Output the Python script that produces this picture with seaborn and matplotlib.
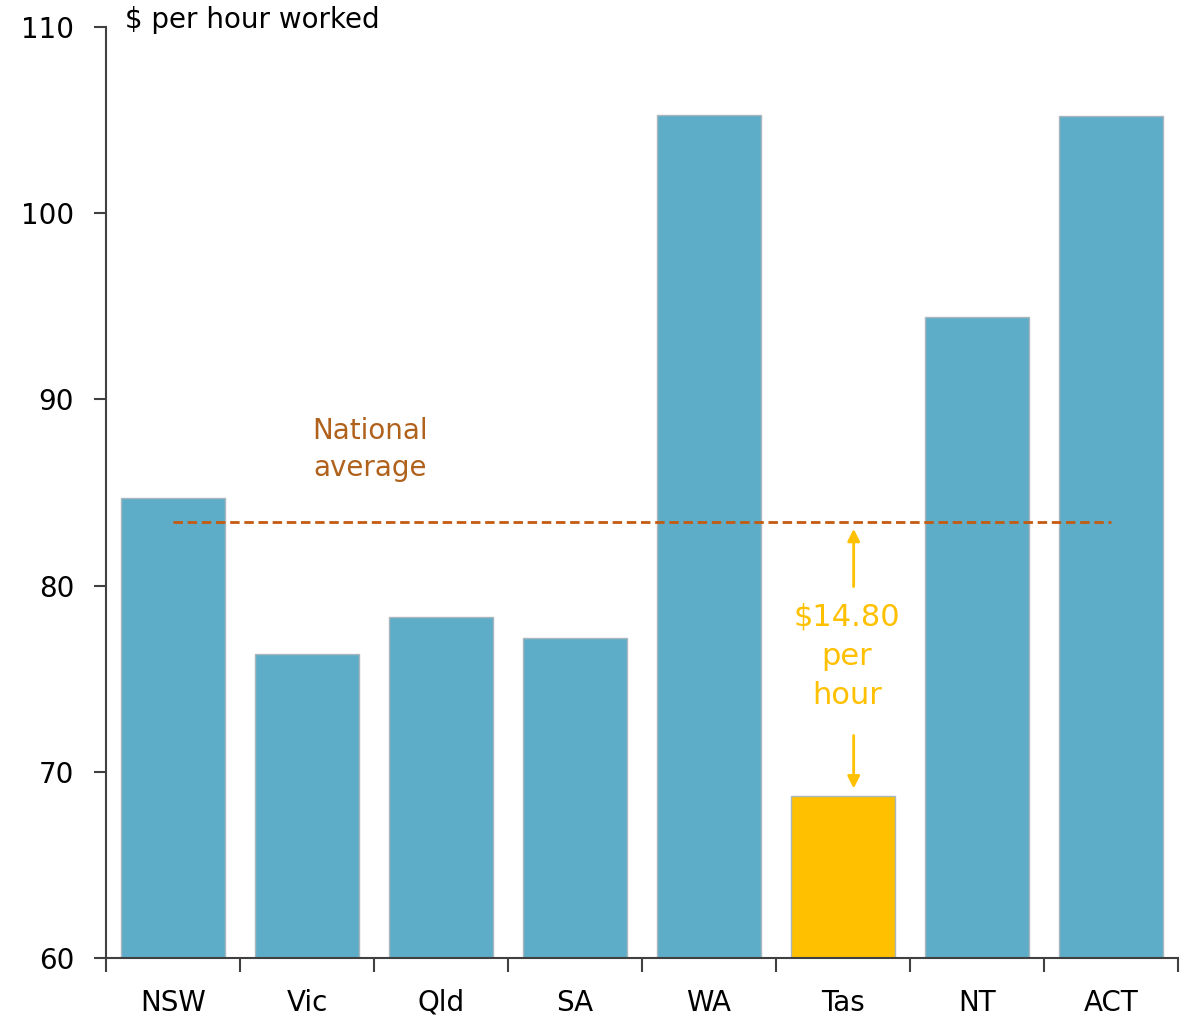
import numpy as np
import matplotlib
matplotlib.use("Agg")
import matplotlib.pyplot as plt
import seaborn as sns

# Data
states = ["NSW", "Vic", "Qld", "SA", "WA", "Tas", "NT", "ACT"]
dollars_per_hour = [84.7, 76.3, 78.3, 77.2, 105.3, 68.7, 94.4, 105.2]
national_average = 83.4
tas_gap = 14.80

blue = "#5DADC9"
gold = "#FFC000"
rust = "#C55A11"
brown = "#B0621C"

sns.set_theme(style="white")
plt.rcParams["font.family"] = ["DejaVu Sans"]

fig = plt.figure(figsize=(11.85, 10.16), dpi=100)
ax = fig.add_axes([0.0895, 0.0571, 0.9045, 0.9163])

colors = [gold if s == "Tas" else blue for s in states]
sns.barplot(x=states, y=dollars_per_hour, hue=states, palette=colors,
            legend=False, width=0.78, edgecolor="#A9B6BC", linewidth=1,
            saturation=1, ax=ax)

ax.set_ylim(60, 110)
ax.set_xlim(-0.5, len(states) - 0.5)
ax.set_yticks([60, 70, 80, 90, 100, 110])

# National average dashed line
ax.plot([0, len(states) - 1], [national_average, national_average],
        color=rust, linestyle=(0, (3.4, 1.7)), linewidth=2)
ax.text(1.47, 87.3, "National\naverage", color=brown, fontsize=20,
        ha="center", va="center", linespacing=1.4)

# Gap annotation for Tasmania
tas_i = states.index("Tas")
tas_val = dollars_per_hour[tas_i]
ax.annotate("", xy=(tas_i + 0.08, national_average - 0.2),
            xytext=(tas_i + 0.08, national_average - 3.6),
            arrowprops=dict(arrowstyle="-|>", color=gold, lw=2,
                            mutation_scale=18))
ax.annotate("", xy=(tas_i + 0.08, tas_val + 0.25),
            xytext=(tas_i + 0.08, tas_val + 3.4),
            arrowprops=dict(arrowstyle="-|>", color=gold, lw=2,
                            mutation_scale=18))
ax.text(tas_i + 0.03, 76.2, f"${tas_gap:.2f}\nper\nhour", color=gold,
        fontsize=22, ha="center", va="center", linespacing=1.45)

# Axis styling
sns.despine(ax=ax)
for side in ["left", "bottom"]:
    ax.spines[side].set_color("#404040")
    ax.spines[side].set_linewidth(1.5)

ax.set_xticks(np.arange(len(states) + 1) - 0.5, minor=True)
ax.tick_params(axis="x", which="major", length=0, pad=22, labelsize=20,
               labelcolor="black")
ax.tick_params(axis="x", which="minor", bottom=True, length=10, width=1.5,
               color="#404040", direction="out")
ax.tick_params(axis="y", left=True, length=9, width=1.5, color="#404040",
               direction="out", pad=14, labelsize=20, labelcolor="black")
ax.set_xlabel("")
ax.set_ylabel("")

fig.text(125 / 1185, 1 - 20 / 1016, "$ per hour worked", fontsize=20,
         ha="left", va="center", color="black")

fig.savefig("out.png", dpi=100)
plt.close(fig)
